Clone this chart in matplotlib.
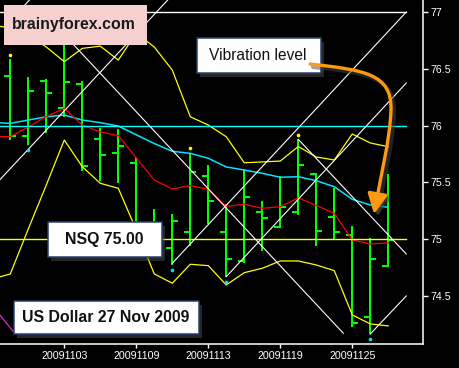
import matplotlib
matplotlib.use("Agg")
import matplotlib.pyplot as plt
from matplotlib.patches import Rectangle, FancyArrowPatch
from matplotlib.path import Path
from matplotlib.transforms import Affine2D

# ---------------- data ----------------
dates = ["20091029", "20091030", "20091102", "20091103", "20091104", "20091105",
         "20091106", "20091109", "20091110", "20091111", "20091112", "20091113",
         "20091116", "20091117", "20091118", "20091119", "20091120", "20091123",
         "20091124", "20091125", "20091126", "20091127"]
opens  = [76.435, 75.911, 76.393, 76.155, 76.364, 75.879, 75.756, 75.673, 75.10, 74.920, 75.061,
          75.559, 75.066, 74.806, 75.237, 75.105, 75.237, 75.571, 75.193, 75.034, 74.315, 74.767]
highs  = [76.584, 76.425, 76.408, 76.800, 76.390, 75.976, 75.967, 75.721, 75.266, 75.222, 75.761,
          75.651, 75.310, 75.615, 75.336, 75.556, 75.879, 75.580, 75.448, 75.116, 75.006, 75.574]
lows   = [75.873, 75.829, 75.932, 76.073, 75.603, 75.510, 75.497, 74.990, 74.950, 74.775, 74.942,
          75.134, 74.670, 74.788, 74.896, 75.100, 75.213, 74.943, 74.999, 74.224, 74.165, 74.758]
closes = [75.908, 76.305, 76.283, 76.381, 75.642, 75.739, 75.818, 75.080, 75.050, 75.160, 75.589,
          75.336, 74.823, 75.369, 75.187, 75.286, 75.651, 75.075, 75.066, 74.260, 74.823, 74.993]

# indicator values, first value is the day before the first bar
upper_band = [76.886, 76.859, 76.798, 76.692, 76.563, 76.680, 76.700, 76.577, 76.815, 76.692, 76.489,
              76.078, 76.005, 75.902, 75.673, 75.680, 75.688, 75.816, 75.724, 75.697, 75.926, 75.847, 75.814]
lower_band = [74.650, 74.694, 75.090, 75.477, 75.873, 75.638, 75.492, 75.448, 75.081, 74.694, 74.612,
              74.779, 74.767, 74.597, 74.705, 74.744, 74.808, 74.808, 74.773, 74.723, 74.333, 74.254, 74.236]
cyan_ma    = [76.027, 76.020, 76.049, 76.078, 76.093, 76.049, 76.026, 75.996, 75.919, 75.842, 75.774,
              75.756, 75.712, 75.636, 75.609, 75.580, 75.545, 75.550, 75.515, 75.462, 75.351, 75.301, 75.281]
red_ma     = [75.904, 75.904, 75.988, 76.080, 76.152, 76.005, 75.944, 75.913, 75.715, 75.521, 75.442,
              75.473, 75.438, 75.288, 75.308, 75.272, 75.286, 75.364, 75.297, 75.228, 74.993, 74.958, 74.967]

top_fractals = [0, 10, 16]          # bars with a yellow dot above
bottom_fractals = [1, 9, 12, 20]    # bars with a cyan dot below

# Gann lines: (start index, start price, end index, end price)
gann_lines = [
    (-0.6, 75.52, 9.3, 77.20),
    (0.0, 76.92, 1.6, 77.20),
    (9.0, 74.788, 22.0, 77.000),
    (12.0, 74.670, 22.0, 76.375),
    (20.0, 74.165, 22.0, 74.500),
    (3.0, 76.800, 18.5, 74.172),
    (16.0, 75.879, 22.0, 74.870),
]
magenta_line = (-0.6, 74.336, 0.25, 74.17)

levels = [77.0, 76.0, 75.0]
level_colors = ["#ffffff", "#00ffff", "#ffff00"]

yticks = [74.5, 75.0, 75.5, 76.0, 76.5, 77.0]
ytick_labels = ["74.5", "75", "75.5", "76", "76.5", "77"]
xtick_idx = [3, 7, 11, 15, 19]

# ---------------- figure ----------------
W, H = 459, 368
fig = plt.figure(figsize=(W / 100, H / 100), dpi=100, facecolor="black")
ax = fig.add_axes([0, 24 / H, 423 / W, 344 / H], facecolor="black")

n = len(dates)
idx = list(range(n))
ind_idx = list(range(-1, n))

# OHLC bars
green = "#00ff00"
ax.vlines(idx, lows, highs, color=green, lw=1.1, zorder=2, antialiased=False)
ax.hlines(opens, [i - 0.34 for i in idx], idx, color=green, lw=1.1, zorder=2, antialiased=False)
ax.hlines(closes, idx, [i + 0.34 for i in idx], color=green, lw=1.1, zorder=2, antialiased=False)

# indicators
ax.plot(ind_idx, upper_band, color="#ffff00", lw=0.9, zorder=3)
ax.plot(ind_idx, lower_band, color="#ffff00", lw=0.9, zorder=3)
ax.plot(ind_idx, cyan_ma, color="#00e5ff", lw=1.1, zorder=3)
ax.plot(ind_idx, red_ma, color="#ff0000", lw=0.9, zorder=3)

# horizontal levels
for lv, c in zip(levels, level_colors):
    ax.plot([-0.6, 22.0], [lv, lv], color=c, lw=1.0, zorder=3)

# gann lines
for x0, y0, x1, y1 in gann_lines:
    ax.plot([x0, x1], [y0, y1], color="white", lw=0.8, zorder=4)
ax.plot(magenta_line[0::2], magenta_line[1::2], color="#d02ad0", lw=0.9, zorder=4)

# fractal dots
ax.plot(top_fractals, [highs[i] + 0.04 for i in top_fractals], "o", color="#ffff00",
        ms=2.6, zorder=5, mec="none")
ax.plot(bottom_fractals, [lows[i] - 0.045 for i in bottom_fractals], "o", color="#00e5ff",
        ms=2.6, zorder=5, mec="none")

ax.set_xlim(-0.572, 22.93)
ax.set_ylim(74.077, 77.106)

# axes styling
for s in ["left", "top"]:
    ax.spines[s].set_visible(False)
for s in ["right", "bottom"]:
    ax.spines[s].set_color("white")
    ax.spines[s].set_linewidth(1.1)
ax.yaxis.tick_right()
ax.set_yticks(yticks)
ax.set_yticklabels(ytick_labels)
ax.set_xticks(xtick_idx)
ax.set_xticklabels([dates[i] for i in xtick_idx])
ax.tick_params(colors="white", labelcolor="white", labelsize=7.7, width=1, length=3.6)
ax.tick_params(axis="y", pad=2)
ax.tick_params(axis="x", pad=2, length=3)
for lab in ax.get_xticklabels() + ax.get_yticklabels():
    lab.set_family("Liberation Sans")

# ---------------- annotations in pixel coordinates ----------------
T = Affine2D().scale(1 / W, -1 / H).translate(0, 1) + fig.transFigure


def box(x0, y0, x1, y1, face, edge=None, shadow=True):
    if shadow:
        fig.patches.append(Rectangle((x0 + 3, y0 + 4), x1 - x0, y1 - y0, transform=T,
                                     facecolor="#555555", edgecolor="none", alpha=0.45, zorder=9))
    fig.patches.append(Rectangle((x0, y0), x1 - x0, y1 - y0, transform=T, facecolor=face,
                                 edgecolor=edge if edge else "none", lw=1.1, zorder=10))


box(4, 5, 147, 45, "#f6cfcf", None, shadow=False)
fig.text(74, 25, "brainyforex.com", transform=T, ha="center", va="center",
         fontsize=11.4, fontweight="bold", family="Liberation Sans", color="#1a1a1a", zorder=11)

box(197, 38, 321, 73, "white", "#24406e")
fig.text(258, 55.5, "Vibration level", transform=T, ha="center", va="center",
         fontsize=11.2, family="Liberation Sans", color="#111111", zorder=11)

box(48, 222, 162, 257, "white", "#24406e")
fig.text(104, 239.5, "NSQ 75.00", transform=T, ha="center", va="center",
         fontsize=11.4, fontweight="bold", family="Liberation Sans", color="#111111", zorder=11)

box(14, 301, 199, 334, "white", "#24406e")
fig.text(106, 317.5, "US Dollar 27 Nov 2009", transform=T, ha="center", va="center",
         fontsize=11.4, fontweight="bold", family="Liberation Sans", color="#111111", zorder=11)

# curved orange arrow with a soft shadow
verts = [(310, 64), (365, 70), (392, 74), (391, 110), (390, 140), (380, 180), (374, 214)]
codes = [Path.MOVETO] + [Path.CURVE4] * 6
shadow_verts = [(x + 3, y + 3) for x, y in verts]
fig.patches.append(FancyArrowPatch(path=Path(shadow_verts, codes), transform=T,
                                   arrowstyle="-|>,head_length=1.2,head_width=0.6",
                                   mutation_scale=10, color="#444444", alpha=0.5, lw=3.0,
                                   zorder=11.5))
fig.patches.append(FancyArrowPatch(path=Path(verts, codes), transform=T,
                                   arrowstyle="-|>,head_length=1.2,head_width=0.6",
                                   mutation_scale=10, color="#ff9a10", lw=2.4, zorder=12))

fig.savefig("out.png", dpi=100, facecolor="black")
